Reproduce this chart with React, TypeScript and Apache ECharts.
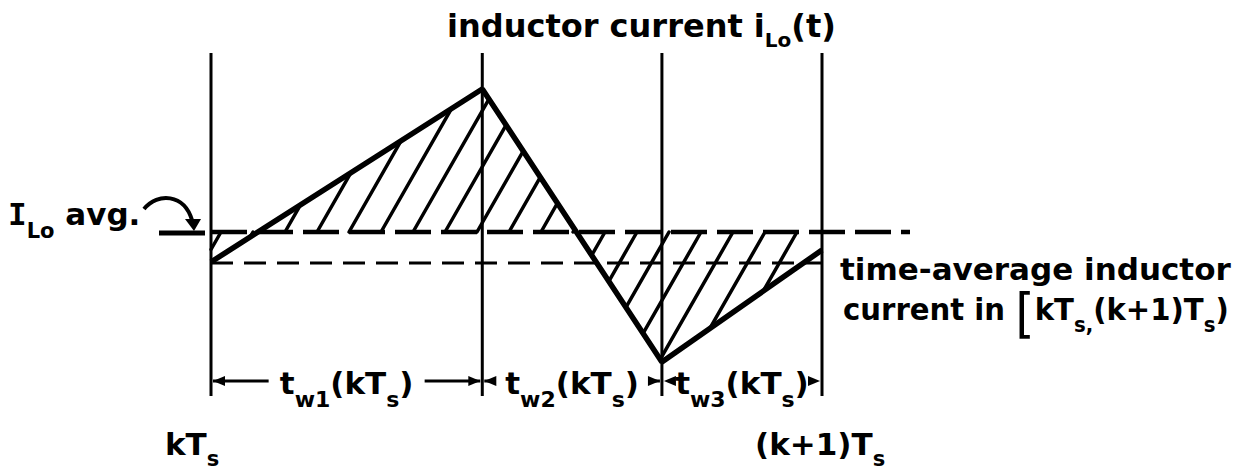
import React, { useEffect, useRef } from "react";
import * as echarts from "echarts";

// Switching instants over one period, in units of Ts:
// kTs, kTs + tw1, kTs + tw1 + tw2, (k+1)Ts
const switchTimes = [0, 0.444, 0.738, 1];
// Inductor current i_Lo(t) at those instants (arbitrary units)
const inductorCurrent = [-0.3, 1.43, -1.3, -0.18];
// Level labelled "I_Lo avg." and the time-average current over the period
const iLoAvg = 0;
const periodAverage = -0.31;
// The I_Lo avg. level is continued a little past (k+1)Ts
const avgLineEnd = 1.144;
// Interval subscripts for the dimension labels
const intervalNames = ["w1", "w2", "w3"];
// Labels under the first and last instants
const instantLabels = ["kT", "(k+1)T"];

const FONT = '"DejaVu Sans", "Noto Sans", sans-serif';
const INK = "#000";

const wave = switchTimes.map((t, i) => [t, inductorCurrent[i]]);
const intervals = switchTimes.slice(0, -1).map((t, i) => [t, switchTimes[i + 1], i]);

// extent of the vertical instant markers and the height of the dimension row
const markerTop = 1.79;
const markerBottom = -1.64;
const dimLevel = -1.49;

function richStyles(size: number, sub: number, drop: number) {
  return {
    m: { fontSize: size, fontWeight: "bold", fontFamily: FONT, fill: INK, lineHeight: size + 8 },
    s: {
      fontSize: sub,
      fontWeight: "bold",
      fontFamily: FONT,
      fill: INK,
      lineHeight: sub,
      verticalAlign: "bottom",
      padding: [0, 0, -drop, 0],
    },
    I: { fontSize: size, fontWeight: "bold", fontFamily: '"DejaVu Sans Mono", monospace', fill: INK, lineHeight: size + 8 },
    b: { fontSize: size + 22, fontWeight: "normal", fontFamily: FONT, fill: INK, lineHeight: size + 8, padding: [0, 0, -8, 0] },
  };
}

// Diagonal hatching between i_Lo(t) and the I_Lo avg. level
function renderHatch(_params: any, api: any) {
  const pts = wave.map((p) => api.coord(p));
  const c = api.coord([0, iLoAvg])[1];
  const slope = 1.75;
  const step = 32;
  const xStart = pts[0][0];
  const xEnd = pts[pts.length - 1][0];
  const fAt = (x: number) => {
    for (let i = 0; i < pts.length - 1; i++) {
      const [xa, ya] = pts[i];
      const [xb, yb] = pts[i + 1];
      if (x >= xa && x <= xb) return ya + ((yb - ya) * (x - xa)) / (xb - xa);
    }
    return c;
  };
  const hits = (x0: number) => {
    const out: number[] = [];
    for (let i = 0; i < pts.length - 1; i++) {
      const [xa, ya] = pts[i];
      const [xb, yb] = pts[i + 1];
      const m = (yb - ya) / (xb - xa);
      if (Math.abs(m + slope) < 1e-9) continue;
      const xi = (c + slope * x0 - ya + m * xa) / (m + slope);
      if (xi >= xa - 1e-6 && xi <= xb + 1e-6) out.push(xi);
    }
    return out;
  };
  const children: any[] = [];
  for (let x0 = xStart + 10; x0 < xEnd - 2; x0 += step) {
    const f = fAt(x0);
    if (Math.abs(f - c) < 3) continue;
    let xe: number;
    if (f < c) {
      const cand = hits(x0).filter((x) => x >= x0);
      xe = cand.length ? Math.min(...cand) : xEnd;
    } else {
      const cand = hits(x0).filter((x) => x <= x0);
      xe = cand.length ? Math.max(...cand) : xStart;
    }
    const ye = c - slope * (xe - x0);
    children.push({
      type: "line",
      shape: { x1: x0, y1: c, x2: xe, y2: ye },
      style: { stroke: INK, lineWidth: 3.5, lineCap: "round" },
    });
  }
  return { type: "group", children };
}

// Vertical lines at the switching instants
function renderInstant(_params: any, api: any) {
  const t = api.value(0);
  const a = api.coord([t, markerTop]);
  const b = api.coord([t, markerBottom]);
  return {
    type: "line",
    shape: { x1: a[0], y1: a[1], x2: b[0], y2: b[1] },
    style: { stroke: INK, lineWidth: 3 },
  };
}

// Dimension arrows and labels for tw1, tw2, tw3
function renderInterval(_params: any, api: any) {
  const a = api.coord([api.value(0), dimLevel]);
  const b = api.coord([api.value(1), dimLevel]);
  const name = intervalNames[api.value(2)];
  const y = a[1];
  const mid = (a[0] + b[0]) / 2;
  const half = 78;
  const head = 12;
  const w = 5;
  return {
    type: "group",
    children: [
      { type: "line", shape: { x1: a[0] + 2, y1: y, x2: mid - half, y2: y }, style: { stroke: INK, lineWidth: 3 } },
      { type: "line", shape: { x1: mid + half, y1: y, x2: b[0] - 2, y2: y }, style: { stroke: INK, lineWidth: 3 } },
      {
        type: "polygon",
        shape: { points: [[a[0] + 2, y], [a[0] + 2 + head, y - w], [a[0] + 2 + head, y + w]] },
        style: { fill: INK },
      },
      {
        type: "polygon",
        shape: { points: [[b[0] - 2, y], [b[0] - 2 - head, y - w], [b[0] - 2 - head, y + w]] },
        style: { fill: INK },
      },
      {
        type: "text",
        x: mid,
        y: y + 2,
        style: {
          text: `{m|t}{s|${name}}{m|(kT}{s|s}{m|)}`,
          rich: richStyles(31, 22, 8),
          align: "center",
          verticalAlign: "middle",
        },
      },
    ],
  };
}

function label(x: number, y: number, text: string, size = 31, sub = 21, drop = 6, scaleX = 1) {
  return {
    type: "text",
    x,
    y,
    scaleX,
    style: { text, rich: richStyles(size, sub, drop), align: "left", verticalAlign: "top" },
  };
}

export default function App() {
  const ref = useRef<HTMLDivElement>(null);

  useEffect(() => {
    document.body.style.margin = "0";
    if (!ref.current) return;
    const chart = echarts.init(ref.current, undefined, { renderer: "svg" });
    chart.setOption({
      animation: false,
      backgroundColor: "#fff",
      grid: { left: 211, top: 47, width: 733.2, height: 365 },
      xAxis: { type: "value", min: 0, max: 1.2, show: false },
      yAxis: { type: "value", min: -1.8, max: 1.85, show: false },
      series: [
        { type: "custom", name: "hatch", renderItem: renderHatch, data: [[0]], z: 1, silent: true },
        {
          type: "line",
          name: "I_Lo avg.",
          data: [[0, iLoAvg], [avgLineEnd, iLoAvg]],
          symbol: "none",
          lineStyle: { color: INK, width: 4.5, type: [36, 10] },
          z: 2,
        },
        {
          type: "line",
          name: "time-average",
          data: [[0, periodAverage], [1, periodAverage]],
          symbol: "none",
          lineStyle: { color: INK, width: 3, type: [22, 11] },
          z: 2,
        },
        { type: "custom", name: "instants", renderItem: renderInstant, data: switchTimes.map((t) => [t]), z: 3 },
        {
          type: "line",
          name: "i_Lo(t)",
          data: wave,
          symbol: "none",
          lineStyle: { color: INK, width: 5.5 },
          z: 4,
        },
        { type: "custom", name: "intervals", renderItem: renderInterval, data: intervals, z: 5 },
      ],
      graphic: [
        label(447, 6, "{m|inductor current i}{s|Lo}{m|(t)}", 32, 20, 4),
        label(8, 194, "{I|I}{s|Lo}{m| avg.}", 31, 21, 8),
        {
          type: "bezierCurve",
          shape: { x1: 144, y1: 209, cpx1: 158, cpy1: 192, cpx2: 184, cpy2: 194, x2: 192, y2: 220 },
          style: { stroke: INK, lineWidth: 4, fill: "none" },
        },
        { type: "polygon", shape: { points: [[185, 219], [201, 219], [194, 231]] }, style: { fill: INK } },
        { type: "line", shape: { x1: 159, y1: 233, x2: 205, y2: 233 }, style: { stroke: INK, lineWidth: 5 } },
        label(840, 249, "{m|time-average inductor}", 31),
        label(843, 290, "{m|current in }{b|[}{m|kT}{s|s,}{m|(k+1)T}{s|s}{m|)}", 31, 21, 6, 0.94),
        label(165, 424, `{m|${instantLabels[0]}}{s|s}`, 31),
        label(755, 424, `{m|${instantLabels[1]}}{s|s}`, 31),
      ],
    });
    return () => chart.dispose();
  }, []);

  return <div ref={ref} style={{ width: 1239, height: 471 }} />;
}
